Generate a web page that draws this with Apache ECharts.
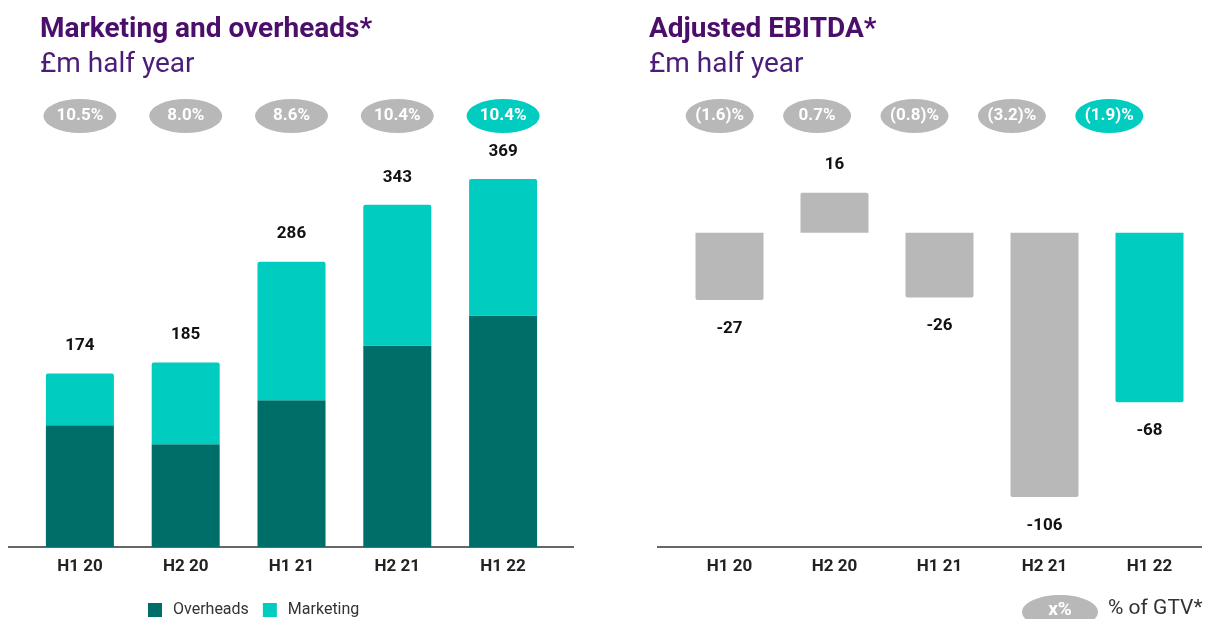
<!DOCTYPE html>
<html>
<head>
<meta charset="utf-8">
<script src="https://cdn.jsdelivr.net/npm/echarts@6/dist/echarts.min.js"></script>
<style>
  html, body { margin: 0; padding: 0; background: #fff; }
  #main { width: 1206px; height: 619px; }
</style>
</head>
<body>
<div id="main"></div>
<script>
// half years
var periods = ['H1 20', 'H2 20', 'H1 21', 'H2 21', 'H1 22'];

// marketing and overheads, £m
var overheads = [122, 103, 147, 202, 232];
var marketing = [52, 82, 139, 141, 137];
var mktTotals = [174, 185, 286, 343, 369];
var mktPctGtv = ['10.5%', '8.0%', '8.6%', '10.4%', '10.4%'];

// adjusted EBITDA, £m
var ebitda = [-27, 16, -26, -106, -68];
var ebitdaPctGtv = ['(1.6)%', '0.7%', '(0.8)%', '(3.2)%', '(1.9)%'];

var DARK = '#006e68';
var TEAL = '#00cdbf';
var GREY = '#b8b8b8';
var FONT = 'Roboto';

var chart = echarts.init(document.getElementById('main'));

function pill(i, last) {
    return { value: 1, itemStyle: { color: i === last ? TEAL : GREY, opacity: 1 } };
}

var valueLabel = {
    show: true,
    fontFamily: FONT,
    fontWeight: 'bold',
    fontSize: 17,
    color: '#111',
    distance: 19
};

var catAxisLabel = {
    fontFamily: FONT,
    fontWeight: 'bold',
    fontSize: 17,
    color: '#222',
    margin: 11
};

var pillLabel = {
    show: true, position: 'inside', color: '#fff', fontWeight: 'bold', fontSize: 17,
    fontFamily: FONT
};

var option = {
    animation: false,
    textStyle: { fontFamily: FONT },
    title: [
        { text: 'Marketing and overheads*', left: 35, top: 11,
          textStyle: { fontSize: 28, fontWeight: 'bold', color: '#4b0e6b', fontFamily: FONT } },
        { text: '£m half year', left: 35, top: 46,
          textStyle: { fontSize: 28, fontWeight: 'normal', color: '#4b1d78', fontFamily: FONT } },
        { text: 'Adjusted EBITDA*', left: 644, top: 11,
          textStyle: { fontSize: 28, fontWeight: 'bold', color: '#4b0e6b', fontFamily: FONT } },
        { text: '£m half year', left: 644, top: 46,
          textStyle: { fontSize: 28, fontWeight: 'normal', color: '#4b1d78', fontFamily: FONT } }
    ],
    legend: {
        data: ['Overheads', 'Marketing'],
        left: 143,
        top: 597,
        icon: 'rect',
        itemWidth: 14,
        itemHeight: 14,
        itemGap: 14,
        textStyle: { fontSize: 16, color: '#333', padding: [0, 0, 0, 6], fontFamily: FONT }
    },
    grid: [
        { left: 27, width: 529, top: 148, height: 399 },
        { left: 677, width: 525, top: 133, height: 414 },
        { left: 27, width: 529, top: 99, height: 34 },
        { left: 671, width: 487, top: 99, height: 34 }
    ],
    xAxis: [
        { type: 'category', gridIndex: 0, data: periods, axisLine: { show: false },
          axisTick: { show: false }, axisLabel: catAxisLabel },
        { type: 'category', gridIndex: 1, data: periods, position: 'bottom',
          axisLine: { show: false, onZero: false }, axisTick: { show: false }, axisLabel: catAxisLabel },
        { type: 'category', gridIndex: 2, data: periods, show: false },
        { type: 'category', gridIndex: 3, data: periods, show: false }
    ],
    yAxis: [
        { type: 'value', gridIndex: 0, min: 0, max: 400, show: false },
        { type: 'value', gridIndex: 1, min: -126, max: 40, show: false },
        { type: 'value', gridIndex: 2, min: 0, max: 2, show: false },
        { type: 'value', gridIndex: 3, min: 0, max: 2, show: false }
    ],
    series: [
        {
            name: 'Overheads', type: 'bar', stack: 'mo', xAxisIndex: 0, yAxisIndex: 0,
            data: overheads, barWidth: 68,
            itemStyle: { color: DARK }
        },
        {
            name: 'Marketing', type: 'bar', stack: 'mo', xAxisIndex: 0, yAxisIndex: 0,
            data: marketing, barWidth: 68,
            itemStyle: { color: TEAL, borderRadius: [2, 2, 0, 0] },
            label: Object.assign({}, valueLabel, {
                position: 'top',
                formatter: function (p) { return mktTotals[p.dataIndex]; }
            })
        },
        {
            name: 'Adjusted EBITDA', type: 'bar', xAxisIndex: 1, yAxisIndex: 1,
            barWidth: 68,
            data: ebitda.map(function (v, i) {
                return {
                    value: v,
                    itemStyle: { color: i === ebitda.length - 1 ? TEAL : GREY,
                                 borderRadius: v >= 0 ? [2, 2, 0, 0] : [0, 0, 2, 2] },
                    label: { position: v >= 0 ? 'top' : 'bottom' }
                };
            }),
            label: Object.assign({}, valueLabel, { distance: 20 })
        },
        {
            name: 'mkt pct', type: 'scatter', xAxisIndex: 2, yAxisIndex: 2,
            symbol: 'circle', symbolSize: [73, 34], silent: true,
            data: mktPctGtv.map(function (t, i) { return pill(i, mktPctGtv.length - 1); }),
            label: Object.assign({}, pillLabel, {
                formatter: function (p) { return mktPctGtv[p.dataIndex]; }
            })
        },
        {
            name: 'ebitda pct', type: 'scatter', xAxisIndex: 3, yAxisIndex: 3,
            symbol: 'circle', symbolSize: [68, 34], silent: true,
            data: ebitdaPctGtv.map(function (t, i) { return pill(i, ebitdaPctGtv.length - 1); }),
            label: Object.assign({}, pillLabel, {
                formatter: function (p) { return ebitdaPctGtv[p.dataIndex]; }
            })
        }
    ],
    graphic: [
        // axis baselines
        { type: 'line', shape: { x1: 8, y1: 547, x2: 574, y2: 547 },
          style: { stroke: '#333', lineWidth: 1.5 } },
        { type: 'line', shape: { x1: 657, y1: 547, x2: 1202, y2: 547 },
          style: { stroke: '#333', lineWidth: 1.5 } },
        // pill key
        { type: 'ellipse', shape: { cx: 1060, cy: 612, rx: 38, ry: 17 },
          style: { fill: GREY } },
        { type: 'text', x: 1060, y: 610,
          style: { text: 'x%', fill: '#fff', font: 'bold 19px Roboto', align: 'center', verticalAlign: 'middle' } },
        { type: 'text', x: 1108, y: 609,
          style: { text: '% of GTV*', fill: '#333', font: '21px Roboto', align: 'left', verticalAlign: 'middle' } }
    ]
};

chart.setOption(option);
</script>
</body>
</html>
